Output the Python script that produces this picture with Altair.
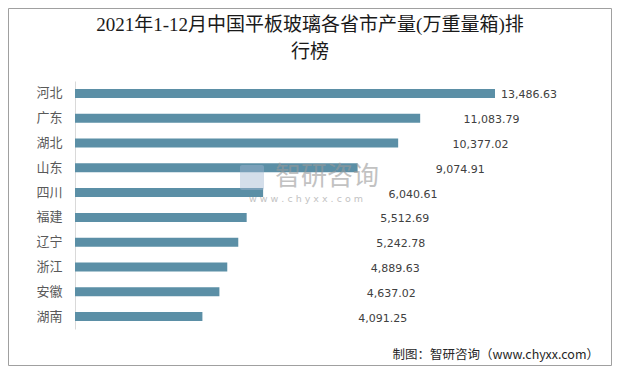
import altair as alt
import pandas as pd

provinces = ["河北", "广东", "湖北", "山东", "四川", "福建", "辽宁", "浙江", "安徽", "湖南"]
values = [13486.63, 11083.79, 10377.02, 9074.91, 6040.61, 5512.69, 5242.78, 4889.63, 4637.02, 4091.25]

title_line1 = "2021年1-12月中国平板玻璃各省市产量(万重量箱)排"
title_line2 = "行榜"
source_text = "制图：智研咨询（www.chyxx.com）"
wm_main = "智研咨询"
wm_url = "w w w . c h y x x . c o m"

df = pd.DataFrame({"province": provinces, "value": values})
one = pd.DataFrame({"a": [0]})

xscale = alt.Scale(domain=[0, max(values)], nice=False, zero=True)
yenc = alt.Y(
    "province:N",
    sort=provinces,
    axis=alt.Axis(
        title=None, ticks=False, grid=False, domainColor="#d9d9d9", domainWidth=1,
        labelFont="Noto Sans CJK SC", labelFontSize=13, labelColor="#595959",
        labelPadding=13,
    ),
)

bars = alt.Chart(df).mark_bar(size=9, color="#5B8FA6").encode(
    x=alt.X("value:Q", scale=xscale, axis=None),
    y=yenc,
)

labels = alt.Chart(df).transform_calculate(
    lx="datum.value / 2 + 7835"
).mark_text(
    align="center", baseline="middle", dy=2,
    font="DejaVu Sans", fontSize=11, color="#404040",
).encode(
    x=alt.X("lx:Q", scale=xscale, axis=None),
    y=alt.Y("province:N", sort=provinces),
    text=alt.Text("value:Q", format=",.2f"),
)

border = alt.Chart(one).mark_rect(fill=None, stroke="#a0a0a0", strokeWidth=1).encode(
    x=alt.value(-66.5), x2=alt.value(536.5), y=alt.value(-72.5), y2=alt.value(284.5)
)

t1 = alt.Chart(one).mark_text(
    font="Liberation Serif, Noto Sans CJK SC", fontSize=19, color="#1a1a1a",
    align="center", baseline="middle",
).encode(x=alt.value(235), y=alt.value(-56), text=alt.value(title_line1))

t2 = alt.Chart(one).mark_text(
    font="Liberation Serif, Noto Sans CJK SC", fontSize=19, color="#1a1a1a",
    align="center", baseline="middle",
).encode(x=alt.value(235), y=alt.value(-29), text=alt.value(title_line2))

src = alt.Chart(one).mark_text(
    font="Noto Sans CJK SC", fontSize=12.5, color="#262626",
    align="right", baseline="middle",
).encode(x=alt.value(524), y=alt.value(274), text=alt.value(source_text))

wm_icon = alt.Chart(one).mark_rect(
    fill="#9fb6d0", opacity=0.45, cornerRadius=2,
).encode(x=alt.value(165), x2=alt.value(189), y=alt.value(84), y2=alt.value(109))

wm1 = alt.Chart(one).mark_text(
    font="Noto Sans CJK SC", fontSize=26, color="#9a9a9a", opacity=0.6,
    align="center", baseline="middle",
).encode(x=alt.value(252), y=alt.value(96), text=alt.value(wm_main))

wm2 = alt.Chart(one).mark_text(
    font="DejaVu Sans", fontSize=9.5, color="#9a9a9a", opacity=0.6,
    align="center", baseline="middle",
).encode(x=alt.value(231), y=alt.value(118), text=alt.value(wm_url))

chart = alt.layer(bars, labels, wm_icon, wm1, wm2, border, t1, t2, src).properties(
    width=420,
    height=248,
    padding={"left": 67, "top": 73, "right": 117, "bottom": 37},
    autosize=alt.AutoSizeParams(type="none"),
    background="white",
).configure_view(stroke=None)

chart.save("out.html", embed_options={"renderer": "svg", "actions": False})
